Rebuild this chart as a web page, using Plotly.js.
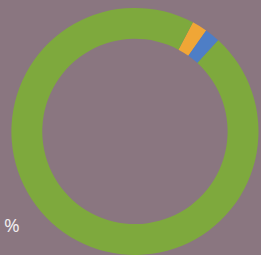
<!DOCTYPE html>
<html>
<head>
<meta charset="utf-8">
<script src="https://cdn.plot.ly/plotly-3.0.1.min.js"></script>
<style>html,body{margin:0;padding:0;background:#8a7680;}</style>
</head>
<body>
<div id="chart" style="width:261px;height:255px;"></div>
<script>
const labels = ["Orange", "Blue", "Green"];
const values = [2, 2, 96];
const colors = ["#f0a636", "#4e7ec6", "#7ea93d"];

const data = [{
  type: "pie",
  labels: labels,
  values: values,
  hole: 0.75,
  sort: false,
  direction: "clockwise",
  rotation: 28,
  textinfo: "none",
  hoverinfo: "none",
  marker: {colors: colors, line: {width: 0}},
  domain: {x: [0.042, 0.992], y: [0, 0.969]}
}];

const layout = {
  width: 261,
  height: 255,
  margin: {l: 0, r: 0, t: 0, b: 0},
  paper_bgcolor: "#8a7680",
  plot_bgcolor: "#8a7680",
  showlegend: false,
  annotations: [{
    text: "%",
    x: 2 / 261, y: 1 - 225 / 255,
    xref: "paper", yref: "paper",
    xanchor: "left", yanchor: "middle",
    showarrow: false,
    font: {family: "Open Sans", size: 19, color: "#f2eef0"}
  }]
};

Plotly.newPlot("chart", data, layout, {displayModeBar: false, staticPlot: true});
</script>
</body>
</html>
